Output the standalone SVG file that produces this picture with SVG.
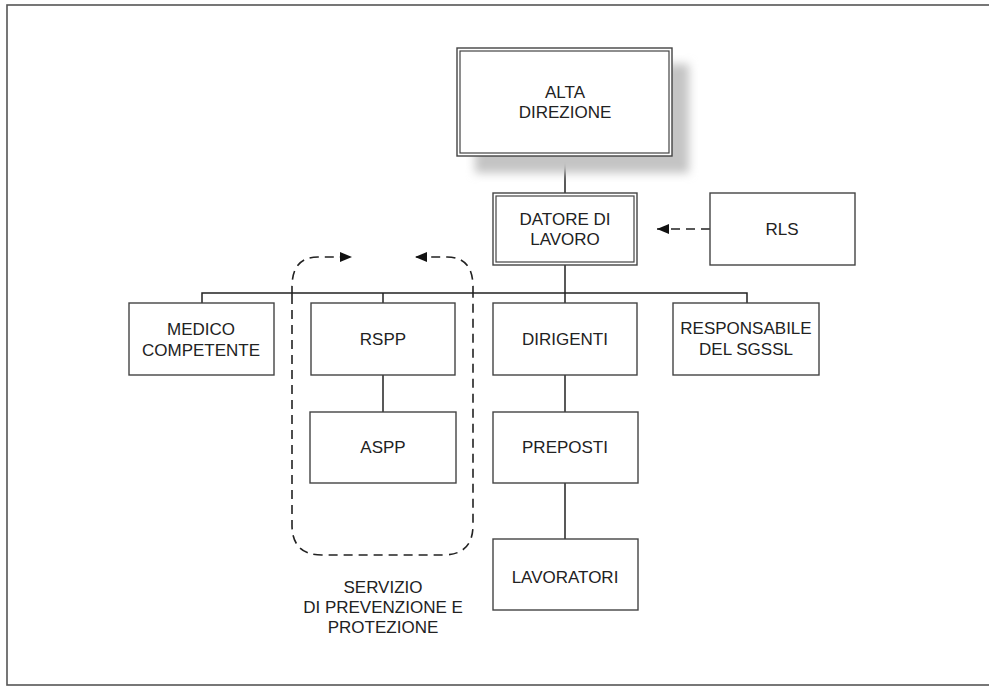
<svg xmlns="http://www.w3.org/2000/svg" width="989" height="686" viewBox="0 0 989 686">
<style>
.box{fill:#fff;stroke:#444;stroke-width:1.4}
.in{fill:none;stroke:#444;stroke-width:1.2}
.ln{fill:none;stroke:#222;stroke-width:1.5}
.dash{fill:none;stroke:#222;stroke-width:1.6;stroke-dasharray:9 6}
text{font-family:"Liberation Sans",Arial,sans-serif;font-size:17px;fill:#222;text-anchor:middle}
</style>
<defs>
<filter id="sh" x="-20%" y="-20%" width="140%" height="140%"><feGaussianBlur stdDeviation="5"/></filter>
<marker id="ah" viewBox="0 0 12 10" refX="12" refY="5" markerWidth="12" markerHeight="10" markerUnits="userSpaceOnUse" orient="auto"><path d="M0,0 L12,5 L0,10 Z" fill="#111"/></marker>
</defs>
<rect x="7" y="5" width="990" height="680" fill="#fff" stroke="#555" stroke-width="1.6"/>
<g id="connectors">
<line class="ln" x1="565" y1="156" x2="565" y2="193"/>
<line class="ln" x1="565" y1="265" x2="565" y2="303"/>
<polyline class="ln" points="202,303 202,293 747,293 747,303"/>
<line class="ln" x1="383" y1="293" x2="383" y2="303"/>
<line class="ln" x1="383" y1="375" x2="383" y2="412"/>
<line class="ln" x1="565" y1="375" x2="565" y2="412"/>
<line class="ln" x1="565" y1="483" x2="565" y2="539"/>
<line class="dash" x1="710" y1="229" x2="657" y2="229" marker-end="url(#ah)"/>
<path class="dash" d="M292,295 L292,287 Q292,257 318,257 L352,257" marker-end="url(#ah)"/>
<path class="dash" d="M473,295 L473,287 Q473,257 447,257 L415,257" marker-end="url(#ah)"/>
</g>
<g id="spp">
<path class="dash" d="M292,295 L292,525 Q292,555 322,555 L443,555 Q473,555 473,525 L473,295"/>
<text x="383" y="593">SERVIZIO</text>
<text x="383" y="613">DI PREVENZIONE E</text>
<text x="383" y="633">PROTEZIONE</text>
</g>
<g id="alta">
<rect x="475" y="64" width="214" height="109" fill="#c4c4c4" filter="url(#sh)"/>
<rect class="box" x="457" y="48" width="215" height="108"/>
<rect class="in" x="460" y="51" width="209" height="102"/>
<text x="565" y="98">ALTA</text>
<text x="565" y="118">DIREZIONE</text>
</g>
<g id="datore">
<rect class="box" x="493" y="193" width="144" height="72"/>
<rect class="in" x="496" y="196" width="138" height="66"/>
<text x="565" y="225">DATORE DI</text>
<text x="565" y="245">LAVORO</text>
</g>
<g id="rls">
<rect class="box" x="710" y="193" width="145" height="72"/>
<text x="782" y="235">RLS</text>
</g>
<g id="medico">
<rect class="box" x="129" y="303" width="145" height="72"/>
<text x="201" y="335">MEDICO</text>
<text x="201" y="356">COMPETENTE</text>
</g>
<g id="rspp">
<rect class="box" x="311" y="303" width="144" height="72"/>
<text x="383" y="345">RSPP</text>
</g>
<g id="dirigenti">
<rect class="box" x="493" y="303" width="144" height="72"/>
<text x="565" y="345">DIRIGENTI</text>
</g>
<g id="responsabile">
<rect class="box" x="673" y="303" width="146" height="72"/>
<text x="746" y="334">RESPONSABILE</text>
<text x="746" y="355">DEL SGSSL</text>
</g>
<g id="aspp">
<rect class="box" x="310" y="412" width="146" height="71"/>
<text x="383" y="453">ASPP</text>
</g>
<g id="preposti">
<rect class="box" x="493" y="412" width="145" height="71"/>
<text x="565" y="453">PREPOSTI</text>
</g>
<g id="lavoratori">
<rect class="box" x="493" y="539" width="145" height="71"/>
<text x="565" y="583">LAVORATORI</text>
</g>
</svg>
